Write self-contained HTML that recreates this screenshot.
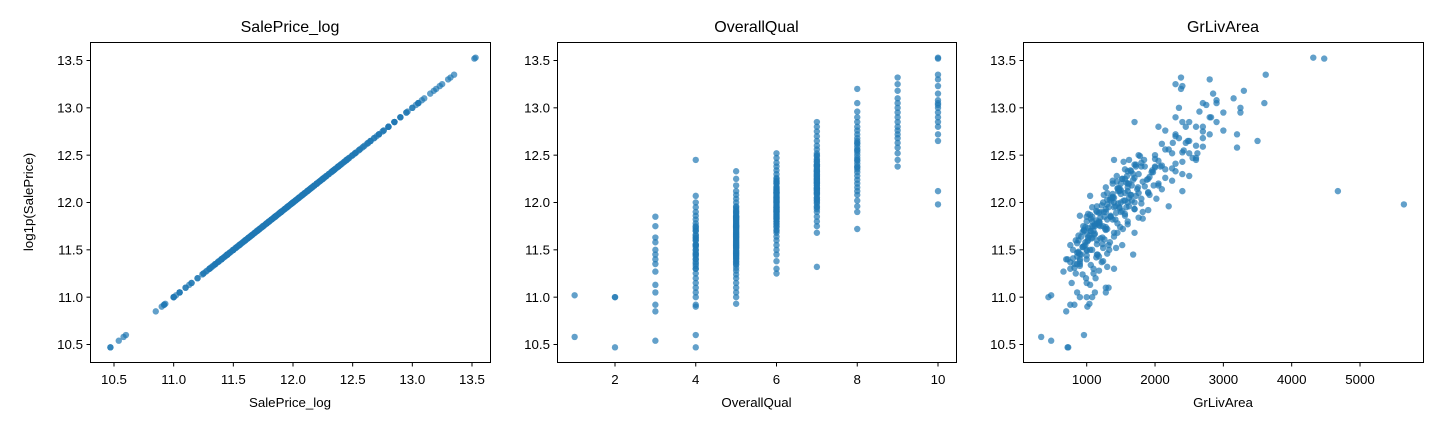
<!DOCTYPE html>
<html><head><meta charset="utf-8">
<style>
html,body{margin:0;padding:0;background:#fff;}
svg{display:block;font-family:"Liberation Sans","DejaVu Sans",sans-serif;}
</style></head>
<body>
<svg id="fig" width="1440" height="432" viewBox="0 0 1440 432"></svg>
<script>
// ---- data (per overall-quality group) ----
const qualLevels = [1,2,3,4,5,6,7,8,9,10];
const priceByQual = [
 [11.02,10.58],
 [11.0,11.0,10.47],
 [10.54,10.85,10.92,11.05,11.13,11.27,11.35,11.4,11.45,11.5,11.58,11.63,11.75,11.85],
 [10.47,10.6,10.9,10.92,11.0,11.05,11.1,11.15,11.2,11.25,11.3,11.33,11.37,11.4,11.43,11.47,11.5,11.53,11.56,11.6,11.63,11.66,11.7,11.74,11.78,11.82,11.86,11.9,11.95,12.0,12.07,12.45,11.45,11.55,11.62,11.72,
  11.35,11.45,11.55,11.65,11.75,11.5,11.6,11.7,11.4,11.3],
 [10.93,11.0,11.05,11.1,11.15,11.2,11.24,11.28,11.31,11.34,11.37,11.4,11.42,11.44,11.46,11.48,11.5,11.52,11.54,11.56,11.58,11.6,11.62,11.64,11.66,11.68,11.7,11.72,11.74,11.76,11.78,11.8,11.82,11.84,11.86,11.88,11.9,11.93,11.96,12.0,12.04,12.08,12.12,12.18,12.25,12.33,11.61,11.67,11.73,11.79,11.85,11.52,11.43,11.91,11.69,11.75,
  11.35,11.45,11.55,11.65,11.75,11.85,11.95,11.41,11.47,11.53,11.59,11.71,11.77,11.83,11.89,11.38,11.63,11.81,11.57,11.49],
 [11.25,11.3,11.38,11.45,11.5,11.55,11.6,11.64,11.68,11.71,11.74,11.77,11.8,11.82,11.84,11.86,11.88,11.9,11.92,11.94,11.96,11.98,12.0,12.02,12.04,12.06,12.08,12.1,12.12,12.14,12.17,12.2,12.23,12.26,12.3,12.34,12.38,12.42,12.47,12.52,11.89,11.95,12.01,12.07,12.13,11.83,11.99,12.05,11.93,12.11,
  11.7,11.75,11.8,11.85,11.9,11.95,12.0,12.05,12.1,12.15,12.2,12.25,11.78,11.87,11.97,12.03,12.09,12.16,12.22,11.91],
 [11.32,11.68,11.75,11.8,11.85,11.9,11.93,11.96,11.99,12.02,12.05,12.08,12.1,12.12,12.14,12.16,12.18,12.2,12.22,12.24,12.26,12.28,12.3,12.32,12.34,12.36,12.38,12.4,12.43,12.46,12.49,12.52,12.56,12.6,12.65,12.7,12.75,12.8,12.85,12.21,12.27,12.33,12.15,12.09,12.39,12.25,
  11.95,12.0,12.05,12.1,12.15,12.2,12.25,12.3,12.35,12.4,12.45,12.5,12.03,12.13,12.23,12.33,12.43,12.18,12.28,12.38],
 [11.72,11.9,11.96,12.02,12.08,12.12,12.16,12.2,12.24,12.28,12.32,12.35,12.38,12.41,12.44,12.47,12.5,12.53,12.56,12.59,12.62,12.65,12.68,12.72,12.76,12.8,12.85,12.9,12.96,13.05,13.2,12.45,12.55,12.63,12.37],
 [12.38,12.45,12.52,12.58,12.63,12.68,12.72,12.76,12.8,12.85,12.9,12.95,13.0,13.05,13.1,13.18,13.25,13.32],
 [11.98,12.12,12.65,12.72,12.8,12.85,12.9,12.95,13.0,13.03,13.05,13.08,13.15,13.23,13.3,13.35,13.53,13.52]
];
const areaByQual = [
 [480,334],
 [440,1000,720],
 [480,700,760,860,1050,660,900,720,1150,800,980,1230,1120,1080],
 [730,960,1010,820,900,1120,1280,780,990,840,1100,900,760,1000,1180,860,1050,940,1230,880,1080,1010,960,1280,1150,1380,900,1200,1480,1600,1050,1400,1160,1320,1070,1300,
  820,900,760,880,950,1000,840,1060,700,760],
 [1040,1080,1280,1320,1000,1130,940,1180,820,1060,1220,900,1140,1000,1300,880,1080,1240,960,1150,1340,1020,1200,920,1110,1400,1050,1270,980,1180,1450,1080,1300,1200,1560,1020,1280,1700,1150,1400,1800,1250,1600,1980,1900,2300,1260,1120,1020,1190,1350,1430,860,1520,940,1080,
  860,920,980,1040,1100,1000,1080,800,880,940,1010,960,1120,1060,1180,900,1020,1140,860,1000],
 [1100,1400,1240,1680,1330,1520,1150,1400,1700,1280,1490,1600,1180,1420,1760,1350,1560,1250,1900,1480,1620,1300,1700,1540,2020,1380,1640,1760,1460,2100,1850,1600,2250,1700,2400,1960,2080,1800,2550,2620,1430,1580,1360,1720,1500,1820,1460,1620,1280,1900,
  1100,1200,1000,1260,1150,1320,1240,1400,1300,1480,1380,1560,1180,1050,1220,1340,1500,1280,1440,1140],
 [1300,1450,1240,1600,1350,1500,1700,1420,1800,1560,1380,1650,1900,1480,1740,1600,2050,1500,1820,1680,2150,1590,1760,1950,1640,2250,1850,1720,2400,2000,1780,2500,2150,2600,2480,2300,2700,2050,1700,1580,1920,1650,1460,1380,2100,1520,
  1400,1500,1350,1560,1450,1620,1520,1680,1560,1700,1620,1760,1300,1480,1380,1600,1540,1660,1440,1720],
 [1530,1820,2200,1660,1920,2400,1750,2050,1880,2500,1970,2150,1800,2300,2050,2600,2000,2400,2200,2700,2100,2500,2350,2800,2150,2450,2900,2300,2650,2900,2380,1840,2420,2260,2000],
 [2000,2600,2250,3200,2450,2700,2300,3000,2600,2500,2820,3250,2350,2700,3150,3300,2300,2380],
 [5642,4676,3500,3200,2700,2400,2800,3000,3250,2750,3600,2900,2850,2400,2800,3620,4316,4476]
];
const yTicks = [10.5,11.0,11.5,12.0,12.5,13.0,13.5];
const xTicks1 = [10.5,11.0,11.5,12.0,12.5,13.0,13.5];
const xTicks2 = [2,4,6,8,10];
const xTicks3 = [1000,2000,3000,4000,5000];

// ---- axes ----
const NS = "http://www.w3.org/2000/svg";
const svg = document.getElementById('fig');
const TOP = 42, BOT = 362;
const yScale = v => 344.5 - (v - 10.5) * 94.67;
const panels = [
 {key:'saleprice-log', title:'SalePrice_log', xlabel:'SalePrice_log', left:90, right:490, ticks:xTicks1, fmt:v=>v.toFixed(1), sx:v=>114 + (v-10.5)*119.33, xv:(p,q,a)=>p},
 {key:'overallqual', title:'OverallQual', xlabel:'OverallQual', left:557, right:956, ticks:xTicks2, fmt:v=>String(v), sx:v=>615 + (v-2)*40.375, xv:(p,q,a)=>q},
 {key:'grlivarea', title:'GrLivArea', xlabel:'GrLivArea', left:1023, right:1423, ticks:xTicks3, fmt:v=>String(v), sx:v=>1086.7 + (v-1000)*0.06833, xv:(p,q,a)=>a}
];
function mk(tag, attrs, parent){ const e=document.createElementNS(NS,tag); for(const k in attrs) e.setAttribute(k,attrs[k]); (parent||svg).appendChild(e); return e; }

panels.forEach((P, pi) => {
  const g = mk('g', {});
  
  
  const pts = mk('g', {fill:'#1f77b4', 'fill-opacity':'0.7'}, g);
  
  
  qualLevels.forEach((q, qi) => {
    priceByQual[qi].forEach((p, i) => {
      const a = areaByQual[qi][i];
      const c = mk('circle', {cx:P.sx(P.xv(p,q,a)).toFixed(2), cy:yScale(p).toFixed(2), r:3.2}, pts);
      
      
    });
  });
  const frame = mk('rect', {x:P.left+0.5, y:TOP+0.5, width:P.right-P.left, height:BOT-TOP, fill:'none', stroke:'#000', 'stroke-width':1}, g);
  
  
  P.ticks.forEach(t => {
    const x = P.sx(t);
    mk('line', {x1:x, x2:x, y1:BOT+0.5, y2:BOT+4.5, stroke:'#000', 'stroke-width':1}, g);
    const tx = mk('text', {x:x, y:BOT+22, 'font-size':13.3, 'text-anchor':'middle', fill:'#000'}, g);
    tx.textContent = P.fmt(t);
    
    
  });
  yTicks.forEach(t => {
    const y = yScale(t);
    mk('line', {x1:P.left+0.5, x2:P.left-3.5, y1:y, y2:y, stroke:'#000', 'stroke-width':1}, g);
    const ty = mk('text', {x:P.left-7, y:y+4.7, 'font-size':13.3, 'text-anchor':'end', fill:'#000'}, g);
    ty.textContent = t.toFixed(1);
    
    
  });
  const tt = mk('text', {x:(P.left+P.right)/2, y:32, 'font-size':16, 'text-anchor':'middle', fill:'#000'}, g);
  tt.textContent = P.title;
  
  
  const xl = mk('text', {x:(P.left+P.right)/2, y:407, 'font-size':13.3, 'text-anchor':'middle', fill:'#000'}, g);
  xl.textContent = P.xlabel;
  
  
});
const yl = mk('text', {x:0, y:0, 'font-size':13.3, 'text-anchor':'middle', fill:'#000', transform:'translate(33,202) rotate(-90)'});
yl.textContent = 'log1p(SalePrice)';


</script>
</body></html>
